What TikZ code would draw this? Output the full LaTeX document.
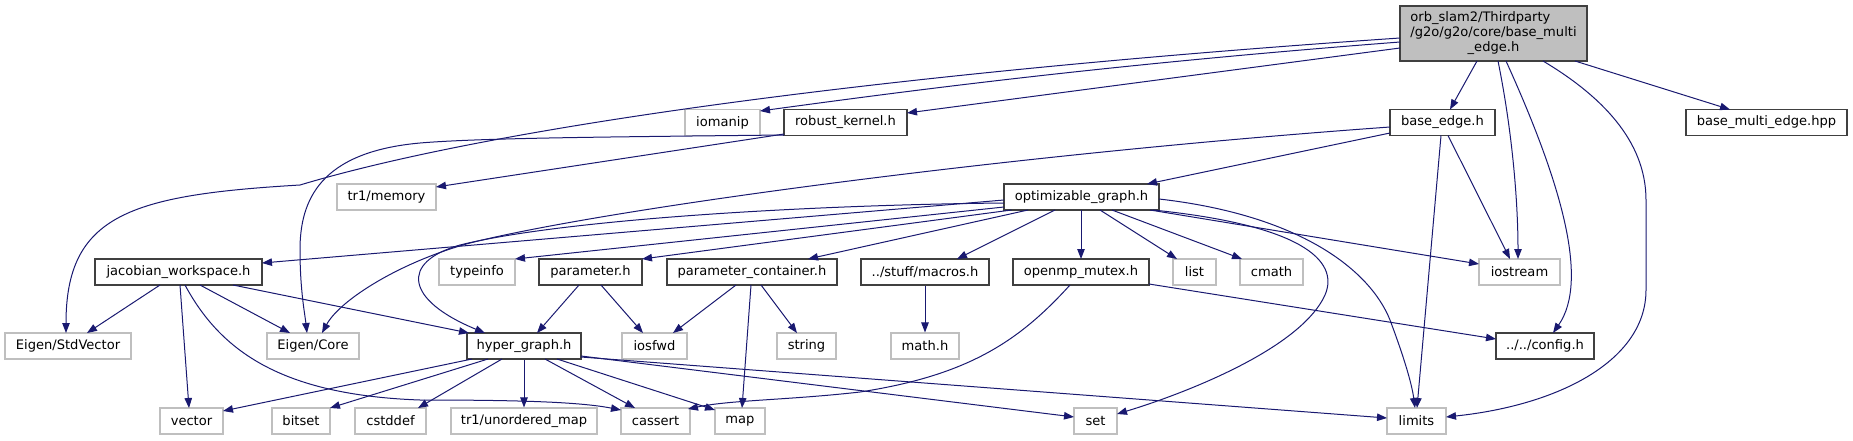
\documentclass[tikz,border=0pt]{standalone}
\usepackage{fontspec}
\setmainfont{DejaVu Sans}
\usepackage{tikz}
\usetikzlibrary{arrows.meta,calc}
\definecolor{midnight}{HTML}{191970}
\definecolor{frame}{HTML}{404040}
\definecolor{syslight}{HTML}{BFBFBF}
\definecolor{rootfill}{HTML}{BFBFBF}
\tikzset{hdr/.style={draw=frame,line width=0.9pt,fill=white,minimum height=19.5pt,inner sep=0pt,font=\fontsize{9.8}{11.25}\selectfont},syshdr/.style={hdr,draw=syslight,line width=0.8pt},roothdr/.style={hdr,fill=rootfill,minimum height=41.25pt,align=center},bw/.style={minimum width=#1*0.75pt},arrow/.style={-{Triangle[length=7.5pt,width=5.6pt]},line width=0.75pt,draw=midnight}}
\begin{document}
\begin{tikzpicture}[x=0.75pt,y=-0.75pt]
\useasboundingbox (0,0) rectangle (1853,440);
% top file
\node[roothdr,bw=187] (root) at (1493.5,33.5) {\rlap{orb\_slam2/Thirdparty}\phantom{/g2o/g2o/core/base\_multi}\\/g2o/g2o/core/base\_multi\\\_edge.h};
% direct includes
\node[syshdr,bw=75] (iom) at (722.5,122.5) {iomanip};
\node[hdr,bw=123] (rk) at (845.5,122.5) {robust\_kernel.h};
\node[hdr,bw=105] (be) at (1442.5,122.5) {base\_edge.h};
\node[hdr,bw=161] (hpp) at (1766.5,122.5) {base\_multi\_edge.hpp};
\node[syshdr,bw=99] (mem) at (386.5,197) {tr1/memory};
\node[hdr,bw=155] (og) at (1081.5,197) {optimizable\_graph.h};
% third row
\node[hdr,bw=167] (jw) at (178.5,272) {jacobian\_workspace.h};
\node[syshdr,bw=76] (ti) at (477,272) {typeinfo};
\node[hdr,bw=103] (par) at (590.5,272) {parameter.h};
\node[hdr,bw=170] (pc) at (752,272) {parameter\_container.h};
\node[hdr,bw=128] (mac) at (925,272) {../stuff/macros.h};
\node[hdr,bw=136] (omp) at (1081,272) {openmp\_mutex.h};
\node[syshdr,bw=43] (lst) at (1194.5,272) {list};
\node[syshdr,bw=63] (cm) at (1271.5,272) {cmath};
\node[syshdr,bw=81] (ios) at (1519.5,272) {iostream};
% fourth row
\node[syshdr,bw=126] (sv) at (68,346) {Eigen/StdVector};
\node[syshdr,bw=92] (ec) at (313,346) {Eigen/Core};
\node[hdr,bw=114] (hg) at (524,346) {hyper\_graph.h};
\node[syshdr,bw=65] (fwd) at (654.5,346) {iosfwd};
\node[syshdr,bw=59] (str) at (806.5,346) {string};
\node[syshdr,bw=68] (mh) at (925,346) {math.h};
\node[hdr,bw=98] (cfg) at (1545,346) {../../config.h};
% bottom row
\node[syshdr,bw=63] (vec) at (191.5,421) {vector};
\node[syshdr,bw=58] (bs) at (301,421) {bitset};
\node[syshdr,bw=71] (cd) at (390.5,421) {cstddef};
\node[syshdr,bw=146] (um) at (524,421) {tr1/unordered\_map};
\node[syshdr,bw=69] (ca) at (655.5,421) {cassert};
\node[syshdr,bw=50] (mp) at (740,421) {map};
\node[syshdr,bw=43] (st) at (1095.5,421) {set};
\node[syshdr,bw=59] (lim) at (1416.5,421) {limits};
% from base_multi_edge.h
\draw[arrow] ($(root)+(-93.5,4.5)$) .. controls (900,72) and (500,125) .. (300,185) .. controls (130,195) and (66,215) .. ($(sv)+(-2,-13)$);
\draw[arrow] ($(root)+(-93.5,8.5)$) .. controls (1100,65) and (900,92) .. ($(iom)+(37.5,-11.5)$);
\draw[arrow] ($(root)+(-93.5,14.5)$) -- ($(rk)+(61.5,-9.5)$);
\draw[arrow] ($(root)+(-16.5,27.5)$) -- ($(be)+(7.5,-13)$);
\draw[arrow] ($(root)+(4.5,27.5)$) .. controls (1512,130) and (1518,200) .. ($(ios)+(-1.5,-13)$);
\draw[arrow] ($(root)+(12.5,27.5)$) .. controls (1560,180) and (1590,280) .. ($(cfg)+(8,-13)$);
\draw[arrow] ($(root)+(49.5,27.5)$) .. controls (1600,95) and (1646,140) .. (1646,200) -- (1646,290) .. controls (1646,360) and (1560,405) .. ($(lim)+(29.5,-4)$);
\draw[arrow] ($(root)+(81.5,27.5)$) -- ($(hpp)+(-36.5,-13)$);
% from base_edge.h
\draw[arrow] ($(be)+(-52.5,10.5)$) -- ($(og)+(65.5,-13)$);
\draw[arrow] ($(be)+(-52.5,4.5)$) .. controls (1000,155) and (600,210) .. (470,243) .. controls (400,262) and (340,300) .. ($(ec)+(9,-13)$);
\draw[arrow] ($(be)+(5.5,13)$) -- ($(ios)+(-9.5,-13)$);
\draw[arrow] ($(be)+(-1.5,13)$) -- ($(lim)+(0.5,-13)$);
% from robust_kernel.h
\draw[arrow] ($(rk)+(-61.5,11.5)$) -- ($(mem)+(49.5,-10)$);
\draw[arrow] ($(rk)+(-61.5,12.5)$) .. controls (600,137) and (480,138) .. (420,143) .. controls (320,152) and (300,200) .. (300,250) .. controls (300,290) and (305,315) .. ($(ec)+(-6,-13)$);
% from optimizable_graph.h
\draw[arrow] ($(og)+(-77.5,3)$) -- ($(jw)+(83.5,-9)$);
\draw[arrow] ($(og)+(-77.5,10)$) -- ($(ti)+(38,-13)$);
\draw[arrow] ($(og)+(-70,13)$) -- ($(par)+(51.5,-13)$);
\draw[arrow] ($(og)+(-53.5,13)$) -- ($(pc)+(56,-13)$);
\draw[arrow] ($(og)+(-26.5,13)$) -- ($(mac)+(32,-13)$);
\draw[arrow] ($(og)+(-0.5,13)$) -- ($(omp)+(0,-13)$);
\draw[arrow] ($(og)+(18.5,13)$) -- ($(lst)+(-17.5,-13)$);
\draw[arrow] ($(og)+(30.5,13)$) -- ($(cm)+(-29.5,-13)$);
\draw[arrow] ($(og)+(68.5,13)$) -- ($(ios)+(-40.5,-8)$);
\draw[arrow] ($(og)+(71.5,13)$) .. controls (1300,225) and (1340,260) .. (1325,295) .. controls (1300,350) and (1180,395) .. ($(st)+(21.5,-7)$);
\draw[arrow] ($(og)+(77.5,2)$) .. controls (1300,215) and (1370,270) .. (1390,320) .. controls (1405,360) and (1412,385) .. ($(lim)+(-1.5,-13)$);
\draw[arrow] ($(og)+(-77.5,6)$) .. controls (800,205) and (560,220) .. (460,245) .. controls (400,262) and (405,300) .. ($(hg)+(-39,-13)$);
% from jacobian_workspace.h
\draw[arrow] ($(jw)+(-18.5,13)$) -- ($(sv)+(19,-13)$);
\draw[arrow] ($(jw)+(1.5,13)$) -- ($(vec)+(-2.5,-13)$);
\draw[arrow] ($(jw)+(6.5,13)$) .. controls (220,350) and (280,395) .. (420,400) .. controls (520,400) and (580,402) .. ($(ca)+(-34.5,-11)$);
\draw[arrow] ($(jw)+(21.5,13)$) -- ($(ec)+(-23,-13)$);
\draw[arrow] ($(jw)+(54.5,13)$) -- ($(hg)+(-55,-13)$);
% parameter.h, parameter_container.h, macros, openmp
\draw[arrow] ($(par)+(-11.5,13)$) -- ($(hg)+(13,-13)$);\draw[arrow] ($(par)+(10.5,13)$) -- ($(fwd)+(-11.5,-13)$);
\draw[arrow] ($(pc)+(-16,13)$) -- ($(fwd)+(18.5,-13)$);\draw[arrow] ($(pc)+(9,13)$) -- ($(str)+(-9.5,-13)$);\draw[arrow] ($(pc)+(-1,13)$) -- ($(mp)+(2,-13)$);
\draw[arrow] (mac) -- (mh);
\draw[arrow] ($(omp)+(68,12)$) -- ($(cfg)+(-49,-7)$);
\draw[arrow] ($(omp)+(-11,13)$) .. controls (1020,340) and (970,375) .. (860,392) .. controls (790,400) and (730,400) .. ($(ca)+(32.5,-12)$);
% from hyper_graph.h
\draw[arrow] ($(hg)+(-52,13)$) -- ($(vec)+(31.5,-10)$);
\draw[arrow] ($(hg)+(-36,13)$) -- ($(bs)+(29,-13)$);
\draw[arrow] ($(hg)+(-22,13)$) -- ($(cd)+(27.5,-13)$);
\draw[arrow] (hg) -- (um);
\draw[arrow] ($(hg)+(21,13)$) -- ($(ca)+(-20.5,-13)$);
\draw[arrow] ($(hg)+(33,13)$) -- ($(mp)+(-25,-11)$);
\draw[arrow] ($(hg)+(57,10)$) -- ($(st)+(-21.5,-4)$);
\draw[arrow] ($(hg)+(57,11)$) -- ($(lim)+(-29.5,-3)$);
\end{tikzpicture}
\end{document}
